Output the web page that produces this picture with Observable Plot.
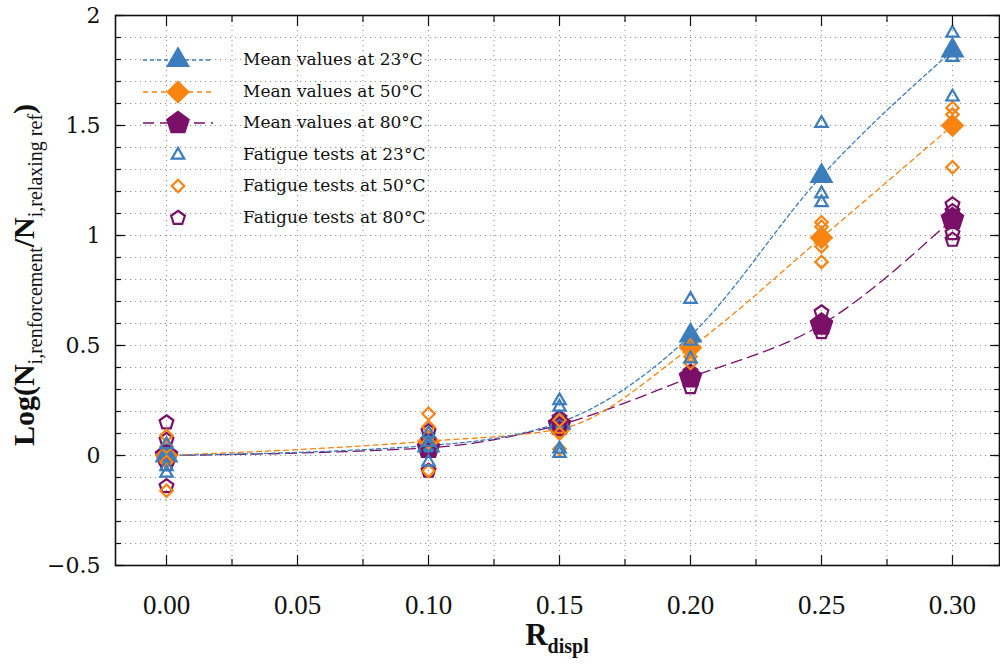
<!DOCTYPE html>
<html>
<head>
<meta charset="utf-8">
<script src="https://cdn.jsdelivr.net/npm/d3@7"></script>
<script src="https://cdn.jsdelivr.net/npm/@observablehq/plot@0.6"></script>
<style>
  body { margin: 0; background: #fff; }
  #wrap { position: relative; width: 1000px; height: 670px; overflow: hidden; background: #fff; }
  #chart { position: absolute; left: 0; top: 0; }
  #legend { position: absolute; left: 143px; top: 44px; font-family: "DejaVu Serif", serif; font-size: 17px; color: #111; }
  .row { position: relative; height: 31.6px; width: 300px; }
  .row svg { position: absolute; left: 0; top: 0; }
  .row span { position: absolute; left: 100px; top: 5px; white-space: nowrap; }
  #xlabel { position: absolute; left: 0; width: 1114px; top: 619px; line-height: 1; text-align: center; font-family: "Liberation Serif", serif; font-weight: bold; font-size: 31px; color: #111; }
  #xlabel sub { font-size: 20px; vertical-align: -8px; line-height: 1; }
  #ylabel { position: absolute; left: 27px; top: 275px; transform: translate(-50%, -50%) rotate(-90deg); white-space: nowrap; font-family: "Liberation Serif", serif; font-weight: bold; font-size: 30px; color: #111; }
  #ylabel sub { font-size: 20px; font-weight: normal; vertical-align: -8px; }
</style>
</head>
<body>
<div id="wrap">
  <div id="chart"></div>
  <div id="legend"></div>
  <div id="xlabel">R<sub>displ</sub></div>
  <div id="ylabel">Log(N<sub>i,renforcement</sub>/N<sub>i,relaxing ref</sub>)</div>
</div>
<script>
// ---- data ----
const rDispl = [0.00, 0.10, 0.15, 0.20, 0.25, 0.30];
const mean23 = [0, 0.045, 0.15, 0.545, 1.27, 1.84];
const mean50 = [0, 0.065, 0.12, 0.49, 0.99, 1.50];
const mean80 = [0, 0.035, 0.14, 0.355, 0.595, 1.075];
const fatigue23 = [[0.05, -0.05, -0.08], [0.10, 0.06, -0.03], [0.25, 0.22, 0.03, 0.01], [0.71, 0.52, 0.44], [1.51, 1.19, 1.15], [1.92, 1.86, 1.81, 1.63]];
const fatigue50 = [[0.09, 0.04, -0.03, -0.16], [0.19, 0.13, 0.06, -0.07], [0.16, 0.10, 0.03], [0.50, 0.45, 0.42], [1.06, 1.04, 0.95, 0.88], [1.58, 1.55, 1.31]];
const fatigue80 = [[0.15, 0.07, -0.04, -0.14], [0.11, 0.07, 0.02, -0.07], [0.17, 0.14, 0.12], [0.38, 0.36, 0.31], [0.65, 0.59, 0.56], [1.14, 1.11, 1.01, 0.98]];
const seriesNames = ["Mean values at 23°C", "Mean values at 50°C", "Mean values at 80°C", "Fatigue tests at 23°C", "Fatigue tests at 50°C", "Fatigue tests at 80°C"];
const xTicks = [0.00, 0.05, 0.10, 0.15, 0.20, 0.25, 0.30];
const xTickLabels = ["0.00", "0.05", "0.10", "0.15", "0.20", "0.25", "0.30"];
const yTicks = [-0.5, 0, 0.5, 1, 1.5, 2];
const yTickLabels = ["\u22120.5", "0", "0.5", "1", "1.5", "2"];

// ---- styles ----
const colors = ["#3b7dbd", "#fb8410", "#7b1068"];
const dashes = ["4,3", "5,4", "11,6"];

const pentagon = {
  draw(ctx, size) {
    const R = Math.sqrt(size / 2.3776);
    for (let k = 0; k < 5; k++) {
      const a = -Math.PI / 2 + k * 2 * Math.PI / 5;
      const x = R * Math.cos(a), y = R * Math.sin(a);
      if (k) ctx.lineTo(x, y); else ctx.moveTo(x, y);
    }
    ctx.closePath();
  }
};
const symbols = ["triangle", "diamond2", pentagon];
const bigR = [8.9, 10.6, 10.9];
const smallR = [4.6, 5.6, 6.3];

const means = [mean23, mean50, mean80];
const fatigues = [fatigue23, fatigue50, fatigue80];
const meanRows = means.map(m => rDispl.map((x, i) => ({x, y: m[i]})));
const fatigueRows = fatigues.map(f => rDispl.flatMap((x, i) => f[i].map(y => ({x, y}))));

const xMinor = d3.range(0, 0.3001, 0.025).map(v => +v.toFixed(3));
const yMinor = d3.range(-0.5, 2.0001, 0.1).map(v => +v.toFixed(2));
const xMinorOnly = xMinor.filter(v => !xTicks.some(t => Math.abs(t - v) < 1e-6));

const gridStyle = {stroke: "#8c8c8c", strokeOpacity: 0.9, strokeDasharray: "1.2,3.8", strokeWidth: 1};
const tickStyle = {text: null, label: null, strokeWidth: 1.2, stroke: "#111"};
const order = [2, 1, 0];

const plot = Plot.plot({
  width: 1000,
  height: 670,
  marginLeft: 115,
  marginRight: 1,
  marginTop: 15,
  marginBottom: 105,
  style: {background: "transparent", overflow: "visible"},
  x: {domain: [-0.01947, 0.31794]},
  y: {domain: [-0.5, 2]},
  marks: [
    Plot.gridX({ticks: xMinor, ...gridStyle}),
    Plot.gridY({ticks: yMinor, ...gridStyle}),
    ...order.map(i => Plot.line(meanRows[i], {x: "x", y: "y", stroke: colors[i], strokeWidth: 1.3, strokeDasharray: dashes[i], curve: "monotone-x"})),
    ...order.map(i => Plot.dot(meanRows[i], {x: "x", y: "y", symbol: symbols[i], r: bigR[i], fill: colors[i], stroke: "none"})),
    ...order.map(i => Plot.dot(fatigueRows[i], {x: "x", y: "y", symbol: symbols[i], r: smallR[i], fill: "none", stroke: colors[i], strokeWidth: 2.2})),
    Plot.frame({stroke: "#111", strokeWidth: 1.6}),
    // tick marks (inward)
    Plot.axisX({anchor: "bottom", ticks: xTicks, tickSize: -10, ...tickStyle}),
    Plot.axisX({anchor: "bottom", ticks: xMinorOnly, tickSize: -6, ...tickStyle}),
    Plot.axisX({anchor: "top", ticks: xTicks, tickSize: -10, ...tickStyle}),
    Plot.axisX({anchor: "top", ticks: xMinorOnly, tickSize: -6, ...tickStyle}),
    Plot.axisY({anchor: "left", ticks: yTicks, tickSize: -10, ...tickStyle}),
    Plot.axisY({anchor: "left", ticks: yMinor, tickSize: -6, ...tickStyle}),
    Plot.axisY({anchor: "right", ticks: yTicks, tickSize: -10, ...tickStyle}),
    Plot.axisY({anchor: "right", ticks: yMinor, tickSize: -6, ...tickStyle}),
    // tick labels
    Plot.axisX({anchor: "bottom", ticks: xTicks, tickSize: 0, tickPadding: 29, label: null,
      tickFormat: d => xTickLabels[xTicks.findIndex(t => Math.abs(t - d) < 1e-9)],
      fontSize: 27, fontFamily: "Liberation Serif", fill: "#111"}),
    Plot.axisY({anchor: "left", ticks: yTicks, tickSize: 0, tickPadding: 15, label: null,
      tickFormat: d => yTickLabels[yTicks.findIndex(t => Math.abs(t - d) < 1e-9)],
      fontSize: 22, fontFamily: "DejaVu Serif", fill: "#111"})
  ]
});
document.getElementById("chart").appendChild(plot);

// ---- legend ----
const legend = document.getElementById("legend");
seriesNames.forEach((name, j) => {
  const i = j % 3;
  const isMean = j < 3;
  const row = document.createElement("div");
  row.className = "row";
  const ns = "http://www.w3.org/2000/svg";
  const svg = document.createElementNS(ns, "svg");
  svg.setAttribute("width", 80);
  svg.setAttribute("height", 32);
  const cy = 16, cx = 35;
  if (isMean) {
    const line = document.createElementNS(ns, "line");
    line.setAttribute("x1", 0); line.setAttribute("x2", 70);
    line.setAttribute("y1", cy); line.setAttribute("y2", cy);
    line.setAttribute("stroke", colors[i]);
    line.setAttribute("stroke-width", 1.3);
    line.setAttribute("stroke-dasharray", dashes[i]);
    svg.appendChild(line);
  }
  const r = isMean ? bigR[i] : smallR[i];
  const sym = typeof symbols[i] === "string" ? (symbols[i] === "triangle" ? d3.symbolTriangle : d3.symbolDiamond2) : symbols[i];
  const path = document.createElementNS(ns, "path");
  path.setAttribute("d", d3.symbol(sym, r * r * Math.PI)());
  path.setAttribute("transform", `translate(${cx},${cy})`);
  if (isMean) { path.setAttribute("fill", colors[i]); }
  else { path.setAttribute("fill", "none"); path.setAttribute("stroke", colors[i]); path.setAttribute("stroke-width", 2.2); }
  svg.appendChild(path);
  row.appendChild(svg);
  const span = document.createElement("span");
  span.textContent = name;
  row.appendChild(span);
  legend.appendChild(row);
});
</script>
</body>
</html>
